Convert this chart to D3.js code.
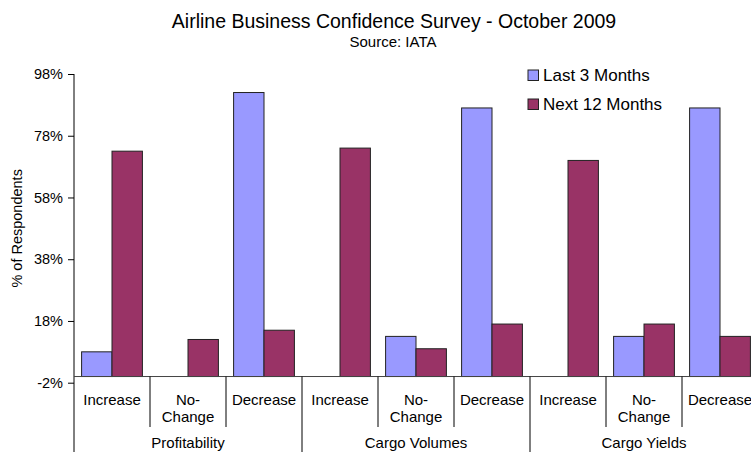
<!DOCTYPE html>
<html>
<head>
<meta charset="utf-8">
<script src="https://cdn.jsdelivr.net/npm/d3@7"></script>
<style>
  body { margin: 0; background: #fff; }
  svg { display: block; font-family: "Liberation Sans", Arial, sans-serif; }
</style>
</head>
<body>
<div id="chart"></div>
<script>
(function () {
  'use strict';

  var groups = ['Profitability', 'Cargo Volumes', 'Cargo Yields'];
  var answers = ['Increase', 'No-Change', 'Decrease'];
  var seriesNames = ['Last 3 Months', 'Next 12 Months'];
  var last3 = [8, 0, 92, 0, 13, 87, 0, 13, 87];
  var next12 = [73, 12, 15, 74, 9, 17, 70, 17, 13];
  var yTicks = [-2, 18, 38, 58, 78, 98];
  var colors = ['#9999ff', '#993366'];

  var width = 751, height = 452;
  var left = 74, top = 74, bottom = 382.7, catW = 76;

  // one entry per category (group x answer)
  var cats = [];
  groups.forEach(function (g, gi) {
    answers.forEach(function (a, ai) {
      cats.push({ key: g + '|' + a, group: g, answer: a, idx: gi * 3 + ai });
    });
  });

  var x0 = d3.scaleBand().domain(cats.map(function (d) { return d.key; }))
    .range([left, left + catW * cats.length]).paddingInner(0).paddingOuter(0);
  var x1 = d3.scaleBand().domain(seriesNames).range([0, x0.bandwidth()])
    .paddingInner(0).paddingOuter(0.25);
  var y = d3.scaleLinear().domain([-2, 98]).range([bottom, top]);

  var svg = d3.select('#chart').append('svg').attr('width', width).attr('height', height);

  // Title
  svg.append('text').attr('x', 394).attr('y', 28).attr('text-anchor', 'middle')
    .attr('font-size', '19.5px').attr('fill', '#000')
    .text('Airline Business Confidence Survey - October 2009');
  svg.append('text').attr('x', 393).attr('y', 47).attr('text-anchor', 'middle')
    .attr('font-size', '15px').attr('fill', '#000')
    .text('Source: IATA');

  // Y axis title
  svg.append('text')
    .attr('transform', 'translate(22,' + ((top + bottom) / 2) + ') rotate(-90)')
    .attr('text-anchor', 'middle').attr('font-size', '14.5px').attr('fill', '#000')
    .text('% of Respondents');

  // Bars
  var barData = [];
  cats.forEach(function (c) {
    barData.push({ cat: c.key, s: seriesNames[0], v: last3[c.idx], ci: 0 });
    barData.push({ cat: c.key, s: seriesNames[1], v: next12[c.idx], ci: 1 });
  });
  svg.append('g').selectAll('rect').data(barData.filter(function (d) { return d.v > 0; }))
    .enter().append('rect')
    .attr('x', function (d) { return x0(d.cat) + x1(d.s); })
    .attr('width', x1.bandwidth())
    .attr('y', function (d) { return y(d.v); })
    .attr('height', function (d) { return y(0) - y(d.v); })
    .attr('fill', function (d) { return colors[d.ci]; })
    .attr('stroke', '#222').attr('stroke-width', 1);

  // Y axis
  var yAxis = svg.append('g').attr('transform', 'translate(' + left + ',0)')
    .call(d3.axisLeft(y).tickValues(yTicks).tickSize(6).tickPadding(5)
      .tickFormat(function (d) { return d + '%'; }));
  yAxis.select('.domain').remove();
  yAxis.selectAll('.tick line').attr('stroke', '#000');
  yAxis.selectAll('text').attr('font-size', '14.5px').attr('fill', '#000')
    .attr('font-family', '"Liberation Sans", Arial, sans-serif');
  svg.append('line').attr('x1', left).attr('x2', left).attr('y1', top).attr('y2', height)
    .attr('stroke', '#000');

  // X axis line at 0
  svg.append('line').attr('x1', left).attr('x2', width).attr('y1', y(0)).attr('y2', y(0))
    .attr('stroke', '#444');

  // Category separators and group separators
  var seps = svg.append('g');
  cats.forEach(function (c, i) {
    if (i === 0) return;
    var xs = x0(c.key);
    var isGroup = i % answers.length === 0;
    seps.append('line').attr('x1', xs).attr('x2', xs)
      .attr('y1', y(0)).attr('y2', isGroup ? height : 427)
      .attr('stroke', '#000');
  });

  // Category labels
  var catLabels = svg.append('g').attr('font-size', '15px').attr('fill', '#000')
    .attr('text-anchor', 'middle');
  cats.forEach(function (c) {
    var cx = x0(c.key) + x0.bandwidth() / 2;
    var t = catLabels.append('text').attr('x', cx).attr('y', 404.5);
    var parts = c.answer.indexOf('-') >= 0 ? [c.answer.split('-')[0] + '-', c.answer.split('-')[1]] : [c.answer];
    parts.forEach(function (p, pi) {
      t.append('tspan').attr('x', cx).attr('dy', pi === 0 ? 0 : 17.5).text(p);
    });
  });

  // Group labels
  groups.forEach(function (g, gi) {
    var first = x0(cats[gi * 3].key);
    svg.append('text').attr('x', first + catW * 1.5).attr('y', 448)
      .attr('text-anchor', 'middle').attr('font-size', '15px').attr('fill', '#000')
      .text(g);
  });

  // Legend
  var legend = svg.append('g').attr('transform', 'translate(528,70)');
  seriesNames.forEach(function (s, i) {
    var row = legend.append('g').attr('transform', 'translate(0,' + (i * 29) + ')');
    row.append('rect').attr('width', 10.5).attr('height', 10.5)
      .attr('fill', colors[i]).attr('stroke', '#222');
    row.append('text').attr('x', 15).attr('y', 10.8).attr('font-size', '17px')
      .attr('fill', '#000').text(s);
  });
})();
</script>
</body>
</html>
